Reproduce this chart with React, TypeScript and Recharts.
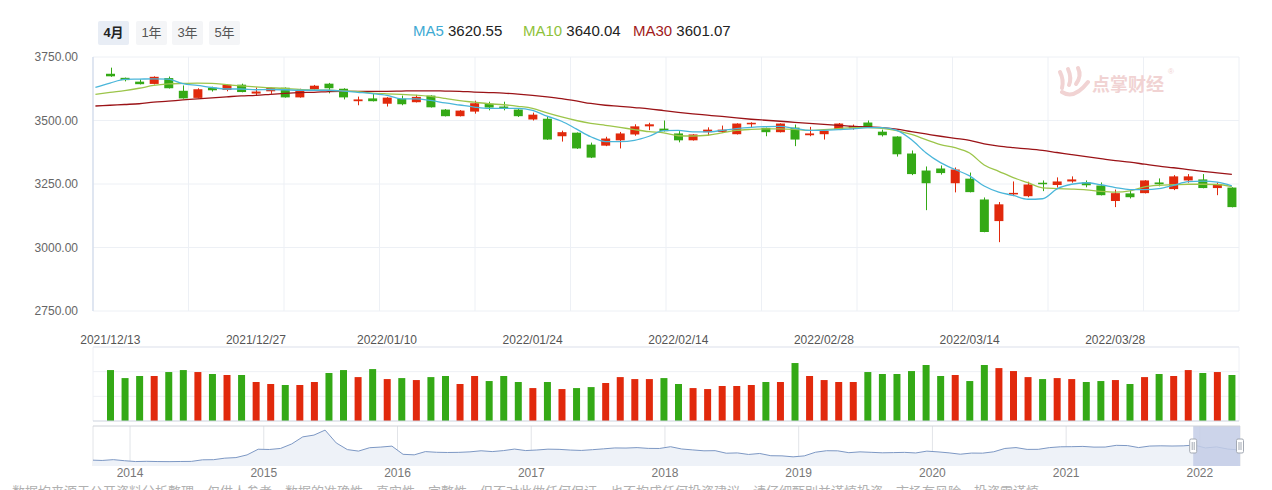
import {
  ComposedChart,
  Bar,
  Line,
  XAxis,
  YAxis,
  CartesianGrid,
  Cell,
  AreaChart,
  Area,
  ReferenceArea,
  ReferenceLine,
} from 'recharts';

const dates = [
  '2021/12/13', '2021/12/14', '2021/12/15', '2021/12/16', '2021/12/17', '2021/12/20', '2021/12/21', '2021/12/22',
  '2021/12/23', '2021/12/24', '2021/12/27', '2021/12/28', '2021/12/29', '2021/12/30', '2021/12/31',
  '2022/01/04', '2022/01/05', '2022/01/06', '2022/01/07', '2022/01/10', '2022/01/11', '2022/01/12', '2022/01/13',
  '2022/01/14', '2022/01/17', '2022/01/18', '2022/01/19', '2022/01/20', '2022/01/21', '2022/01/24', '2022/01/25',
  '2022/01/26', '2022/01/27', '2022/01/28',
  '2022/02/07', '2022/02/08', '2022/02/09', '2022/02/10', '2022/02/11', '2022/02/14', '2022/02/15', '2022/02/16',
  '2022/02/17', '2022/02/18', '2022/02/21', '2022/02/22', '2022/02/23', '2022/02/24', '2022/02/25', '2022/02/28',
  '2022/03/01', '2022/03/02', '2022/03/03', '2022/03/04', '2022/03/07', '2022/03/08', '2022/03/09', '2022/03/10',
  '2022/03/11', '2022/03/14', '2022/03/15', '2022/03/16', '2022/03/17', '2022/03/18', '2022/03/21', '2022/03/22',
  '2022/03/23', '2022/03/24', '2022/03/25', '2022/03/28', '2022/03/29', '2022/03/30', '2022/03/31',
  '2022/04/01', '2022/04/06', '2022/04/07', '2022/04/08', '2022/04/11',
];

const opens = [
  3684, 3668, 3653, 3644, 3667, 3617, 3589, 3629, 3620, 3641,
  3606, 3615, 3629, 3591, 3623, 3645, 3625, 3576, 3587, 3566,
  3586, 3572, 3598, 3543, 3517, 3535, 3566, 3555, 3543, 3504,
  3507, 3438, 3452, 3405, 3401, 3422, 3445, 3477, 3468, 3449,
  3422, 3454, 3455, 3446, 3485, 3471, 3454, 3472, 3442, 3446,
  3467, 3469, 3492, 3456, 3437, 3370, 3303, 3311, 3253, 3271,
  3189, 3104, 3210, 3202, 3255, 3246, 3260, 3256, 3244, 3183,
  3213, 3214, 3256, 3230, 3264, 3268, 3234, 3236,
];

const closes = [
  3674, 3659, 3643, 3672, 3627, 3587, 3623, 3619, 3641, 3612,
  3614, 3628, 3591, 3618, 3637, 3627, 3591, 3583, 3576, 3590,
  3564, 3593, 3552, 3517, 3539, 3568, 3551, 3547, 3517, 3523,
  3425, 3454, 3390, 3354, 3429, 3449, 3477, 3485, 3458, 3422,
  3445, 3464, 3464, 3488, 3491, 3454, 3488, 3425, 3449, 3460,
  3488, 3479, 3473, 3442, 3367, 3289, 3253, 3293, 3307, 3218,
  3061, 3170, 3215, 3248, 3251, 3260, 3268, 3245, 3206, 3214,
  3198, 3264, 3249, 3280, 3280, 3234, 3249, 3159,
];

const highs = [
  3708, 3669, 3662, 3674, 3673, 3638, 3627, 3633, 3642, 3645,
  3630, 3630, 3630, 3625, 3640, 3648, 3627, 3594, 3606, 3592,
  3598, 3601, 3599, 3545, 3541, 3578, 3574, 3574, 3545, 3531,
  3517, 3460, 3453, 3413, 3436, 3455, 3485, 3491, 3500, 3458,
  3446, 3473, 3480, 3489, 3493, 3472, 3489, 3484, 3475, 3461,
  3490, 3484, 3500, 3464, 3438, 3382, 3319, 3323, 3315, 3295,
  3197, 3179, 3260, 3259, 3264, 3276, 3280, 3264, 3256, 3228,
  3225, 3265, 3272, 3285, 3289, 3289, 3256, 3237,
];

const lows = [
  3672, 3654, 3642, 3642, 3626, 3586, 3588, 3614, 3615, 3611,
  3597, 3605, 3590, 3590, 3621, 3607, 3583, 3560, 3575, 3555,
  3560, 3571, 3551, 3516, 3516, 3527, 3540, 3540, 3514, 3500,
  3424, 3417, 3388, 3352, 3399, 3390, 3440, 3462, 3457, 3414,
  3421, 3441, 3451, 3445, 3471, 3438, 3453, 3399, 3438, 3425,
  3466, 3464, 3472, 3437, 3358, 3285, 3147, 3287, 3217, 3217,
  3060, 3021, 3202, 3198, 3222, 3236, 3255, 3237, 3205, 3159,
  3193, 3213, 3241, 3226, 3255, 3233, 3206, 3158,
];

const volumes = [
  413, 348, 365, 365, 397, 413, 397, 381, 373, 373,
  316, 300, 292, 292, 316, 389, 413, 356, 421, 340,
  348, 332, 356, 365, 300, 365, 324, 365, 316, 267,
  316, 259, 267, 275, 308, 356, 340, 340, 348, 300,
  267, 259, 284, 284, 292, 316, 316, 470, 365, 332,
  316, 316, 397, 381, 381, 405, 454, 365, 373, 324,
  454, 429, 405, 356, 340, 348, 340, 316, 324, 332,
  300, 356, 381, 365, 413, 389, 397, 373,
];

// moving averages: first value sits one slot left of the first candle (left edge of the plot)
const ma5 = [
  3630,
  3647, 3662, 3663, 3664, 3663, 3645, 3638, 3630, 3624, 3624,
  3621, 3622, 3621, 3619, 3619, 3619, 3616, 3611, 3606, 3599,
  3585, 3585, 3579, 3569, 3561, 3553, 3548, 3548, 3548, 3540,
  3517, 3497, 3467, 3436, 3417, 3417, 3422, 3438, 3460, 3461,
  3455, 3455, 3461, 3468, 3473, 3476, 3477, 3469, 3461, 3461,
  3464, 3467, 3472, 3472, 3461, 3425, 3373, 3334, 3307, 3282,
  3242, 3218, 3205, 3190, 3192, 3231, 3249, 3255, 3247, 3236,
  3228, 3228, 3232, 3245, 3259, 3261, 3257, 3243,
];

const ma10 = [
  3603,
  3611, 3618, 3627, 3638, 3644, 3646, 3647, 3646, 3641, 3636,
  3632, 3629, 3626, 3622, 3620, 3619, 3617, 3614, 3608, 3605,
  3603, 3600, 3595, 3587, 3578, 3572, 3566, 3562, 3556, 3548,
  3530, 3514, 3500, 3489, 3481, 3473, 3464, 3456, 3451, 3440,
  3439, 3442, 3451, 3461, 3465, 3467, 3467, 3465, 3461, 3464,
  3468, 3472, 3472, 3469, 3460, 3445, 3425, 3405, 3393, 3372,
  3325, 3300, 3275, 3255, 3235, 3232, 3230, 3227, 3221, 3218,
  3223, 3239, 3245, 3247, 3249, 3249, 3248, 3240,
];

const ma30 = [
  3557,
  3560, 3563, 3566, 3572, 3576, 3581, 3585, 3589, 3593, 3597,
  3599, 3603, 3607, 3610, 3611, 3614, 3615, 3615, 3615, 3615,
  3616, 3617, 3617, 3616, 3615, 3612, 3610, 3608, 3604, 3599,
  3593, 3586, 3577, 3567, 3560, 3556, 3551, 3546, 3539, 3532,
  3526, 3521, 3516, 3510, 3505, 3501, 3497, 3493, 3489, 3485,
  3481, 3477, 3475, 3472, 3466, 3456, 3447, 3438, 3430, 3422,
  3408, 3399, 3393, 3388, 3382, 3374, 3366, 3358, 3350, 3342,
  3336, 3328, 3320, 3314, 3307, 3300, 3294, 3288,
];

const dateTicks = [
  '2021/12/13', '2021/12/27', '2022/01/10', '2022/01/24',
  '2022/02/14', '2022/02/28', '2022/03/14', '2022/03/28',
];
const priceTicks = [2750, 3000, 3250, 3500, 3750];

// monthly index history for the slider, Sep 2013 .. Apr 2022
const navFirstMonth = 2013 + 8 / 12;
const navValues = [
  2175, 2140, 2220, 2116,
  2033, 2056, 2033, 2026, 2039, 2048, 2202, 2217, 2364, 2420, 2683, 3235,
  3210, 3310, 3748, 4441, 4612, 5100, 3850, 3200, 3053, 3383, 3445, 3539,
  2738, 2688, 3004, 2938, 2917, 2930, 2979, 3085, 3005, 3100, 3250, 3104,
  3159, 3242, 3223, 3155, 3117, 3192, 3273, 3361, 3349, 3393, 3317, 3307,
  3481, 3259, 3169, 3082, 3095, 2847, 2876, 2725, 2821, 2603, 2588, 2494,
  2585, 2941, 3091, 3078, 2899, 2979, 2933, 2886, 2905, 2929, 2871, 3050,
  2977, 2880, 2750, 2860, 2852, 2985, 3310, 3396, 3218, 3225, 3392, 3473,
  3483, 3509, 3441, 3447, 3615, 3591, 3397, 3544, 3568, 3547, 3564, 3640,
  3361, 3462, 3252, 3167,
];
const navYears = [2014, 2015, 2016, 2017, 2018, 2019, 2020, 2021, 2022];

const RED = '#e1290c';
const GREEN = '#34a916';
const C_MA5 = '#4ab6da';
const C_MA10 = '#9cc54a';
const C_MA30 = '#9b1317';

const rows = dates.map((date, i) => ({
  date,
  open: opens[i],
  close: closes[i],
  high: highs[i],
  low: lows[i],
  vol: volumes[i],
}));

const maRows = ma5.map((v, i) => ({ idx: i - 1, ma5: v, ma10: ma10[i], ma30: ma30[i] }));

const navRows = navValues.map((v, i) => ({ t: navFirstMonth + (i + 0.5) / 12, v }));

const Candle = (props: any) => {
  const { x, y, width, height, payload } = props;
  const top = Math.min(y, y + height);
  const h = Math.abs(height);
  const { open, close, high, low } = payload;
  const color = close >= open ? RED : GREEN;
  const k = h / (high - low);
  const py = (v: number) => top + (high - v) * k;
  const cx = Math.round(x + width / 2) + 0.5;
  const bTop = py(Math.max(open, close));
  const bBot = py(Math.min(open, close));
  return (
    <g>
      <line x1={cx} x2={cx} y1={top} y2={top + h} stroke={color} strokeWidth={1} />
      <rect x={x} y={bTop} width={width} height={Math.max(1.5, bBot - bTop)} fill={color} />
    </g>
  );
};

const SliderWindow = (props: any) => {
  const { x, y, width, height } = props;
  const hy = y + height / 2 - 7;
  const handle = (hx: number) => (
    <g>
      <rect x={hx - 3.5} y={hy} width={7} height={14} rx={1.5} fill="#fff" stroke="#a3a9b3" />
      <line x1={hx - 1} x2={hx - 1} y1={hy + 3} y2={hy + 11} stroke="#a3a9b3" />
      <line x1={hx + 1} x2={hx + 1} y1={hy + 3} y2={hy + 11} stroke="#a3a9b3" />
    </g>
  );
  return (
    <g>
      <rect x={x} y={y} width={width} height={height} fill="#c3cde6" fillOpacity={0.85} />
      {handle(x)}
      {handle(x + width)}
    </g>
  );
};

const twelfths = ({ offset }: any) =>
  Array.from({ length: 13 }, (_, k) => offset.left + (offset.width * k) / 12);

export default function App() {
  const font = "'Liberation Sans', 'Noto Sans CJK SC', sans-serif";
  const btn = (label: string, left: number, active: boolean) => (
    <div
      style={{
        position: 'absolute',
        left,
        top: 21,
        width: 31,
        height: 24,
        lineHeight: '24px',
        textAlign: 'center',
        fontSize: 13,
        borderRadius: 2,
        background: active ? '#e8edf5' : '#f4f5f7',
        color: active ? '#222' : '#555',
        fontWeight: active ? 700 : 400,
      }}
    >
      {label}
    </div>
  );
  const legend = (name: string, value: string, color: string, left: number) => (
    <div style={{ position: 'absolute', left, top: 22, fontSize: 15, lineHeight: '18px', whiteSpace: 'nowrap' }}>
      <span style={{ color }}>{name}</span>
      <span style={{ color: '#222' }}> {value}</span>
    </div>
  );

  return (
    <div
      style={{
        position: 'absolute',
        left: 0,
        top: 0,
        width: 1272,
        height: 490,
        overflow: 'hidden',
        background: '#fff',
        fontFamily: font,
      }}
    >
      {btn('4月', 98, true)}
      {btn('1年', 136, false)}
      {btn('3年', 172, false)}
      {btn('5年', 209, false)}
      {legend('MA5', '3620.55', '#3eaad3', 413)}
      {legend('MA10', '3640.04', '#8ec23a', 523)}
      {legend('MA30', '3601.07', '#a11a1a', 633)}

      <div style={{ position: 'absolute', left: 0, top: 0 }}>
        <ComposedChart width={1272} height={320} data={rows} margin={{ top: 57, right: 33, bottom: 9, left: 13 }}>
          <CartesianGrid stroke="#edf0f5" verticalCoordinatesGenerator={twelfths} />
          <XAxis dataKey="date" hide padding={{ left: 10, right: 0 }} />
          <XAxis
            xAxisId="ma"
            dataKey="idx"
            type="number"
            domain={[-1.167, 77.49]}
            allowDataOverflow
            hide
          />
          <YAxis
            domain={[2750, 3750]}
            ticks={priceTicks}
            width={80}
            tickFormatter={(v: number) => v.toFixed(2)}
            tick={{ fill: '#666', fontSize: 12 }}
            tickLine={false}
            tickSize={0}
            tickMargin={15}
            axisLine={{ stroke: '#c9d5e8' }}
            allowDataOverflow
          />
          <Bar
            dataKey={(d: any) => [d.low, d.high]}
            barSize={9}
            shape={(p: any) => <Candle {...p} />}
            isAnimationActive={false}
          />
          <Line xAxisId="ma" data={maRows} type="monotone" dataKey="ma30" stroke={C_MA30} strokeWidth={1.3} dot={false} isAnimationActive={false} />
          <Line xAxisId="ma" data={maRows} type="monotone" dataKey="ma10" stroke={C_MA10} strokeWidth={1.3} dot={false} isAnimationActive={false} />
          <Line xAxisId="ma" data={maRows} type="monotone" dataKey="ma5" stroke={C_MA5} strokeWidth={1.3} dot={false} isAnimationActive={false} />
        </ComposedChart>
      </div>

      {/* watermark */}
      <div style={{ position: 'absolute', left: 1056, top: 64, width: 120, height: 36, pointerEvents: 'none' }}>
        <svg width={120} height={36}>
          <path d="M4 8 Q8 16 6 24" stroke="#f1d3d3" strokeWidth={4} fill="none" strokeLinecap="round" />
          <path d="M12 5 Q16 14 13 21" stroke="#f1d3d3" strokeWidth={4} fill="none" strokeLinecap="round" />
          <path d="M22 4 Q26 12 20 20" stroke="#f1d3d3" strokeWidth={4} fill="none" strokeLinecap="round" />
          <path d="M6 28 Q18 36 32 18" stroke="#f1d3d3" strokeWidth={4} fill="none" strokeLinecap="round" />
          <text x={36} y={27} fontSize={18} fontWeight={700} fill="#f1d3d3" fontFamily="'Noto Sans CJK SC'">
            点掌财经
          </text>
          <text x={112} y={10} fontSize={8} fill="#f1d3d3">
            ®
          </text>
        </svg>
      </div>

      <div style={{ position: 'absolute', left: 0, top: 320 }}>
        <ComposedChart width={1272} height={110} data={rows} margin={{ top: 7, right: 33, bottom: 9, left: 93 }}>
          <CartesianGrid
            stroke="#eef0f5"
            horizontalCoordinatesGenerator={({ offset }: any) => [0, 1, 2].map((k) => offset.top + (offset.height * k) / 3)}
            verticalCoordinatesGenerator={({ offset }: any) => [offset.left, offset.left + offset.width]}
          />
          <XAxis
            dataKey="date"
            orientation="top"
            height={20}
            padding={{ left: 10, right: 0 }}
            interval={0}
            tickFormatter={(v: string) => (dateTicks.includes(v) ? v : '')}
            tick={{ fill: '#555', fontSize: 12 }}
            tickLine={false}
            tickSize={0}
            tickMargin={3}
            axisLine={{ stroke: '#e3e7ef' }}
          />
          <YAxis hide domain={[0, 600]} />
          <ReferenceLine y={0} stroke="#cdd3de" />
          <Bar dataKey="vol" barSize={7} isAnimationActive={false}>
            {rows.map((r, i) => (
              <Cell key={i} fill={r.close >= r.open ? RED : GREEN} />
            ))}
          </Bar>
        </ComposedChart>
      </div>

      <div style={{ position: 'absolute', left: 0, top: 420 }}>
        <AreaChart width={1272} height={66} data={navRows} margin={{ top: 6, right: 32, bottom: 0, left: 93 }}>
          <CartesianGrid stroke="#e2e4e8" horizontal={false} />
          <XAxis
            dataKey="t"
            type="number"
            domain={[2013.723, 2022.3]}
            ticks={navYears}
            allowDataOverflow
            height={20}
            tick={{ fill: '#777', fontSize: 12 }}
            tickLine={false}
            tickSize={0}
            tickMargin={2}
            axisLine={false}
          />
          <YAxis hide domain={[1600, 5500]} allowDataOverflow />
          <Area
            type="linear"
            dataKey="v"
            stroke="#7d98c4"
            strokeWidth={1}
            fill="#eef2f8"
            fillOpacity={1}
            isAnimationActive={false}
          />
          <ReferenceLine y={5500} stroke="#cfd2d8" />
          <ReferenceArea x1={2021.95} x2={2022.3} y1={1600} y2={5500} shape={(p: any) => <SliderWindow {...p} />} />
        </AreaChart>
      </div>

      <div
        style={{
          position: 'absolute',
          left: 12,
          top: 481,
          fontSize: 13,
          color: '#b0b0b0',
          whiteSpace: 'nowrap',
          fontFamily: "'Noto Sans CJK SC', sans-serif",
        }}
      >
        数据均来源于公开资料分析整理，仅供人参考，数据的准确性、真实性、完整性，但不对此做任何保证，也不构成任何投资建议，请仔细甄别并谨慎投资，市场有风险，投资需谨慎。
      </div>
    </div>
  );
}
